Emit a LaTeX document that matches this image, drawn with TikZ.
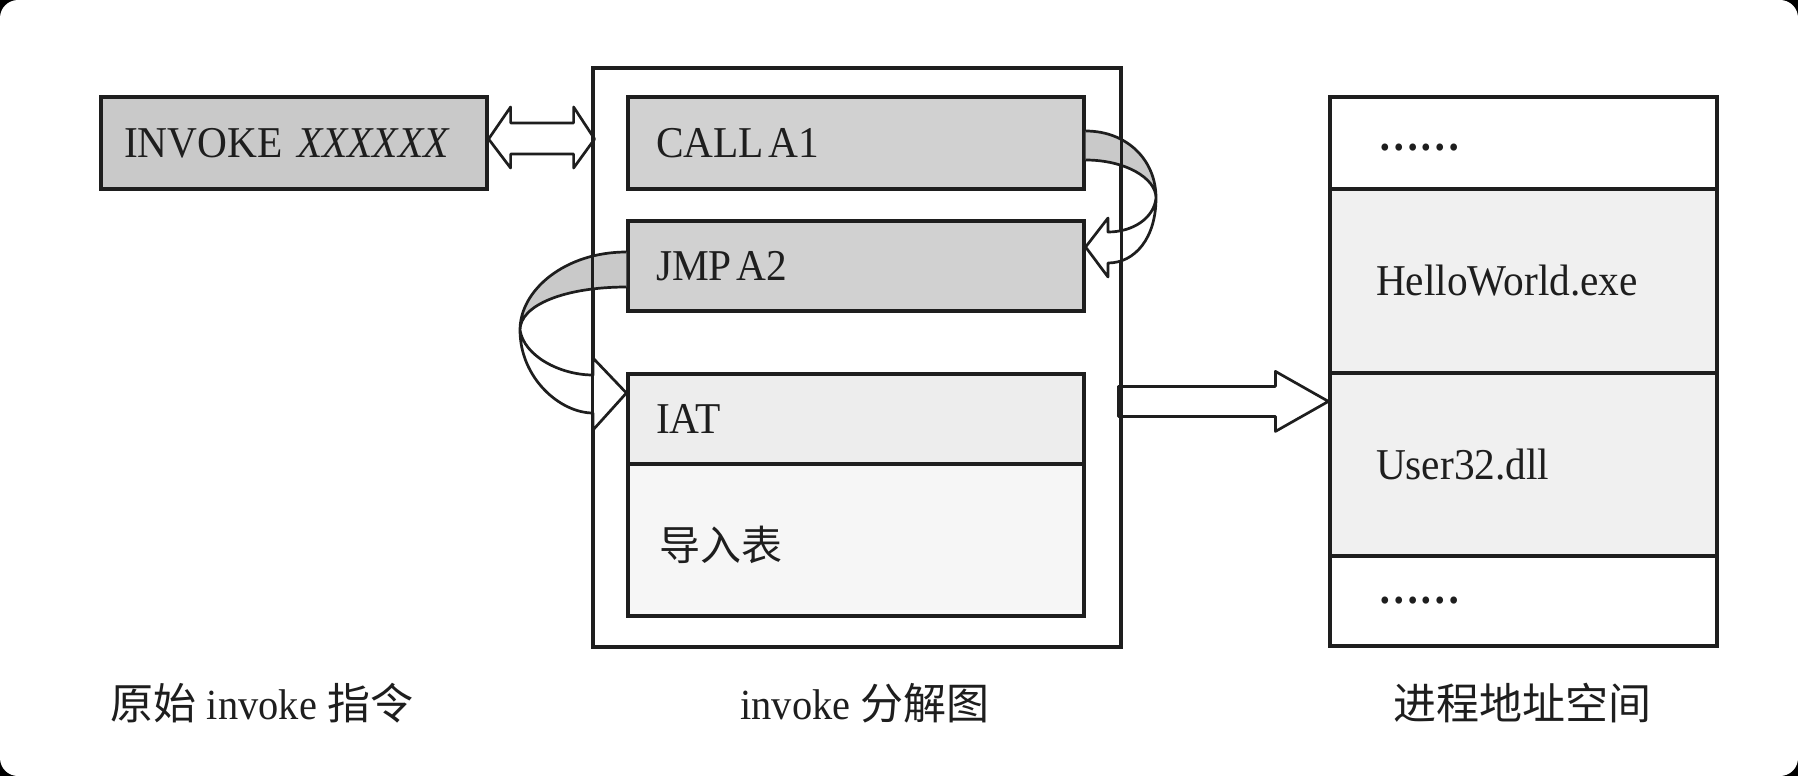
\documentclass[tikz,border=0pt]{standalone}
\usepackage{fontspec}
\setmainfont{Liberation Serif}[FakeStretch=0.94]
\newfontfamily\cjk{Noto Sans CJK SC}
\usetikzlibrary{calc}
\definecolor{ink}{HTML}{1E1E1E}
\definecolor{gInv}{gray}{0.79}
\definecolor{gCall}{gray}{0.82}
\definecolor{gIat}{gray}{0.93}
\definecolor{gImp}{gray}{0.965}
\definecolor{gMem}{gray}{0.94}
\definecolor{gBand}{gray}{0.79}
\newcommand\bigtxt{\fontsize{44}{50}\selectfont}
\newcommand\labtxt{\fontsize{43}{50}\selectfont}
\newcommand\tightsp{\kern5pt\relax}
\tikzset{
  cell/.style={draw=ink, line width=3.2pt, inner ysep=0pt, align=left,
    text height=29pt, text depth=0pt, font=\bigtxt, text=ink},
  dotcell/.style={cell, text height=4pt},
  arrline/.style={draw=ink, line width=2.7pt, line join=round},
  band/.style={fill=gBand},
  outerline/.style={draw=ink, line width=2.9pt},
  lab/.style={font=\labtxt, text=ink, inner sep=0pt}
}
\begin{document}
\begin{tikzpicture}[x=1pt,y=-1pt]
% background with rounded corners
\fill[black] (0,0) rectangle (1798,776);
\fill[white, rounded corners=18pt] (0,0) rectangle (1798,776);

% left box
\node[cell, fill=gInv, minimum width=386pt, minimum height=92pt,
  inner xsep=23pt, text width=340pt] (inv) at (294,143) {INVOKE \textit{XXXXXX}};

% middle outer box
\node[outerline, fill=white, minimum width=526pt, minimum height=577pt, inner sep=0pt]
  (outer) at (857,357.5) {};

\node[cell, fill=gCall, minimum width=456pt, minimum height=92pt,
  inner xsep=28pt, text width=400pt] (call) at (856,143) {CALL\tightsp A1};
\node[cell, fill=gCall, minimum width=456pt, minimum height=90pt,
  inner xsep=28pt, text width=400pt] (jmp) at (856,266) {JMP\tightsp A2};
\node[cell, fill=gIat, minimum width=456pt, minimum height=90pt,
  inner xsep=28pt, text width=400pt] (iat) at (856,419) {IAT};
\node[cell, fill=gImp, minimum width=456pt, minimum height=152pt, text height=41pt,
  inner xsep=31pt, text width=394pt] (imp) at (856,540) {{\cjk\fontsize{41}{48}\selectfont 导入表}};

% right column
\node[dotcell, text height=14pt, fill=white, minimum width=387pt, minimum height=92pt,
  inner xsep=48pt, text width=291pt] (r1) at (1523.5,143) {\textbf{……}};
\node[cell, fill=gMem, minimum width=387pt, minimum height=184pt,
  inner xsep=46pt, text width=295pt] (r2) at (1523.5,281) {HelloWorld.exe};
\node[cell, fill=gMem, minimum width=387pt, minimum height=183pt,
  inner xsep=46pt, text width=295pt] (r3) at (1523.5,464.5) {User32.dll};
\node[dotcell, fill=white, minimum width=387pt, minimum height=90pt,
  inner xsep=48pt, text width=291pt] (r4) at (1523.5,601) {\textbf{……}};

% double arrow INVOKE <-> outer box
\draw[arrline, fill=white] ($(inv.east)+(0,-4)$) -- ++(22,-32) -- ++(0,16) -- ++(63,0)
  -- ++(0,-16) -- ++(21,32) -- ++(-21,29) -- ++(0,-14) -- ++(-63,0) -- ++(0,14) -- cycle;

% block arrow outer box -> address space
\coordinate (ra) at ($(r3.north west)+(0,30)$);
\draw[arrline, fill=white] (ra) -- ++(-53,-30) -- ++(0,15) -- ++(-157,0) -- ++(0,30)
  -- ++(157,0) -- ++(0,15) -- cycle;

% curved arrow CALL A1 -> JMP A2
\coordinate (a1o) at ($(call.east)+(0,-12)$);
\coordinate (a1i) at ($(call.east)+(0,17)$);
\coordinate (a1p) at (1156,198);
\coordinate (a1t) at ($(jmp.east)+(0,-19)$);
\fill[band] (a1o) .. controls (1127,131) and (1156,160) .. (a1p)
  .. controls (1156,178) and (1125,160) .. (a1i) -- cycle;
\fill[white] (a1p) .. controls (1156,238) and (1135,263) .. (1108,263) -- (1108,277) -- (a1t)
  -- (1108,218) -- (1108,232) .. controls (1133,232) and (1154,218) .. (a1p) -- cycle;
\draw[arrline] (a1o) .. controls (1127,131) and (1156,160) .. (a1p)
  .. controls (1156,238) and (1135,263) .. (1108,263) -- (1108,277) -- (a1t)
  -- (1108,218) -- (1108,232) .. controls (1133,232) and (1154,218) .. (a1p)
  .. controls (1156,178) and (1125,160) .. (a1i);

% curved arrow JMP A2 -> IAT
\coordinate (a2o) at ($(jmp.west)+(0,-14)$);
\coordinate (a2i) at ($(jmp.west)+(0,21)$);
\coordinate (a2p) at (520,330);
\coordinate (a2t) at ($(iat.west)+(0,-26)$);
\fill[band] (a2o) .. controls (565,252) and (520,290) .. (a2p)
  .. controls (520,305) and (565,287) .. (a2i) -- cycle;
\fill[white] (a2p) .. controls (520,378) and (560,413) .. (593,413) -- (593,430) -- (a2t)
  -- (593,358) -- (593,375) .. controls (560,375) and (524,356) .. (a2p) -- cycle;
\draw[arrline] (a2o) .. controls (565,252) and (520,290) .. (a2p)
  .. controls (520,378) and (560,413) .. (593,413) -- (593,430) -- (a2t)
  -- (593,358) -- (593,375) .. controls (560,375) and (524,356) .. (a2p)
  .. controls (520,305) and (565,287) .. (a2i);

% outer box border on top of the arrows
\draw[outerline] (outer.north west) rectangle (outer.south east);

% captions
\node[lab] (lab1) at (262,703) {{\cjk 原始} invoke {\cjk 指令}};
\node[lab] (lab2) at (865,703) {invoke {\cjk 分解图}};
\node[lab] (lab3) at (1522,703) {{\cjk 进程地址空间}};
\end{tikzpicture}
\end{document}
